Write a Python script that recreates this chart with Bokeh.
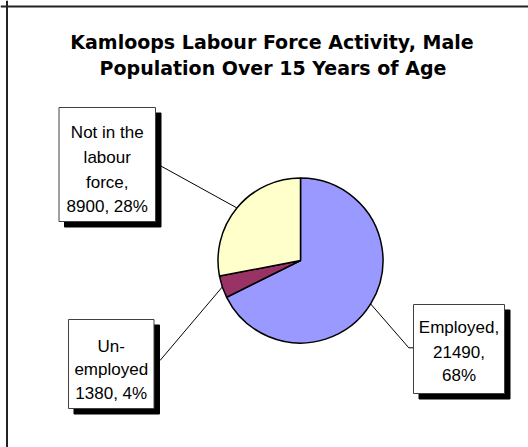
import numpy as np
from bokeh.plotting import figure
from bokeh.models import Range1d, Span
from bokeh.embed import file_html
from bokeh.resources import INLINE
from bokeh.core.properties import value

# ---------------- data ----------------
title_lines = ["Kamloops Labour Force Activity, Male", "Population Over 15 Years of Age"]
categories = ["Employed", "Unemployed", "Not in the labour force"]
counts = [21490, 1380, 8900]
colors = ["#9999FF", "#993366", "#FFFFCC"]
# wrapped label templates ({v}=count, {p}=percent)
label_templates = [
    ["Employed,", "{v},", "{p}%"],
    ["Un-", "employed", "{v}, {p}%"],
    ["Not in the", "labour", "force,", "{v}, {p}%"],
]

# ---------------- layout (page pixel coordinates) ----------------
W, H = 528, 447


def Y(py):
    return H - py


cx, cy, R = 300.0, 260.0, 82.5
# label boxes: left, right, top, bottom
boxes = [(413, 504, 304, 393), (68, 153.5, 319, 408), (58.5, 155, 107, 221)]
shadow = 5.5
# box-side leader anchor points
anchors = [[(413, 347.3), (408.3, 347.3)], [(159.5, 360)], [(159.5, 165)]]
first_baseline = [327.3, 346.0, 132.3]
line_step = [23.8, 23.3, 24.6]

p = figure(width=W, height=H, output_backend="svg", toolbar_location=None,
           x_range=Range1d(0, W), y_range=Range1d(0, H),
           min_border=0, outline_line_color=None)
p.axis.visible = False
p.grid.visible = False
p.background_fill_color = "white"
p.border_fill_color = "white"

# chart-area border (top and left visible)
p.add_layout(Span(location=Y(6), dimension="width", line_color="#222222", line_width=2))
p.add_layout(Span(location=6.5, dimension="height", line_color="#222222", line_width=2))

# ---------------- pie ----------------
vals = np.array(counts, dtype=float)
frac = vals / vals.sum()
cum = np.concatenate([[0], np.cumsum(frac)])
start = np.pi / 2 - 2 * np.pi * cum[:-1]
end = np.pi / 2 - 2 * np.pi * cum[1:]
p.wedge(x=cx, y=Y(cy), radius=R, start_angle=start, end_angle=end, direction="clock",
        fill_color=colors, line_color="black", line_width=1.5)

# ---------------- leader lines ----------------
mid = np.pi / 2 - 2 * np.pi * (cum[:-1] + cum[1:]) / 2
for i in range(len(counts)):
    ex = cx + R * np.cos(mid[i])
    ey = cy - R * np.sin(mid[i])
    xs = [a[0] for a in anchors[i]] + [ex]
    ys = [Y(a[1]) for a in anchors[i]] + [Y(ey)]
    p.line(xs, ys, line_color="black", line_width=1)

# ---------------- label boxes ----------------
bl = np.array([b[0] for b in boxes], dtype=float)
br = np.array([b[1] for b in boxes], dtype=float)
bt = np.array([b[2] for b in boxes], dtype=float)
bb = np.array([b[3] for b in boxes], dtype=float)
p.quad(left=bl + shadow, right=br + shadow, top=Y(bt + shadow), bottom=Y(bb + shadow),
       fill_color="black", fill_alpha=1.0, line_color="black", line_width=1)
p.quad(left=bl, right=br, top=Y(bt), bottom=Y(bb), fill_color="white",
       line_color="#404040", line_width=1)

# ---------------- label texts ----------------
tx, ty, tt = [], [], []
for i, tmpl in enumerate(label_templates):
    pct = int(round(100 * frac[i]))
    l, r_, t, b = boxes[i]
    for j, s in enumerate(tmpl):
        tt.append(s.format(v=counts[i], p=pct))
        tx.append((l + r_) / 2)
        ty.append(Y(first_baseline[i] + j * line_step[i]))
p.text(x=tx, y=ty, text=tt, text_align="center", text_baseline="alphabetic",
       text_font=value("Liberation Sans"), text_font_size="17px", text_color="black")

# ---------------- title ----------------
p.text(x=[271.5, 272.5], y=[Y(41.0), Y(67.5)], text=title_lines, text_align="center",
       text_baseline="alphabetic", text_font=value("DejaVu Sans"), text_font_style="bold",
       text_font_size="19px", text_color="black")

open("out.html", "w").write(file_html(p, INLINE))
